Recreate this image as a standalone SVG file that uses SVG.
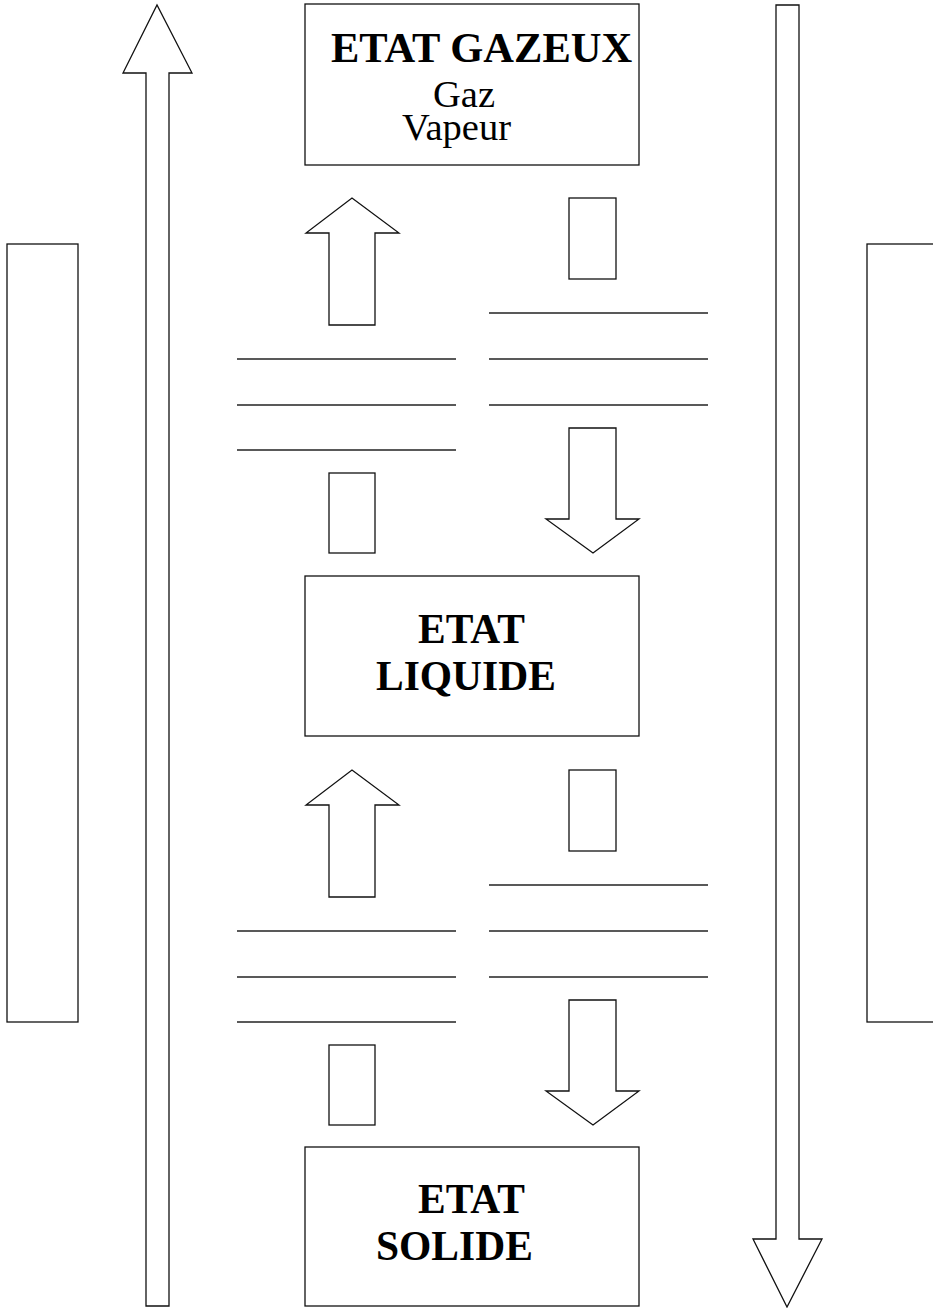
<svg xmlns="http://www.w3.org/2000/svg" width="933" height="1308" viewBox="0 0 933 1308">
<style>
.s{fill:#fff;stroke:#111;stroke-width:1.3}
.l{stroke:#222;stroke-width:1.3}
.b{font-family:"Liberation Serif","Times New Roman",serif;font-weight:bold;fill:#000}
.r{font-family:"Liberation Serif","Times New Roman",serif;fill:#000}
</style>
<rect width="933" height="1308" fill="#fff"/>
<g id="side-left"><rect class="s" x="7" y="244" width="71" height="778"/></g>
<g id="side-right"><rect class="s" x="867" y="244" width="80" height="778"/></g>
<g id="connectors">
<polygon class="s" points="146,1306 146,73 123,73 157,5 192,73 169,73 169,1306"/>
<polygon class="s" points="776,5 799,5 799,1239 822,1239 787,1307 753,1239 776,1239"/>
<polygon class="s" points="329,325 329,233 306,233 352,198 399,233 375,233 375,325"/>
<polygon class="s" points="329,897 329,805 306,805 352,770 399,805 375,805 375,897"/>
<polygon class="s" points="569,428 616,428 616,519 639,519 593,553 546,519 569,519"/>
<polygon class="s" points="569,1000 616,1000 616,1091 639,1091 593,1125 546,1091 569,1091"/>
</g>
<g id="labels">
<rect class="s" x="569" y="198" width="47" height="81"/>
<rect class="s" x="569" y="770" width="47" height="81"/>
<rect class="s" x="329" y="473" width="46" height="80"/>
<rect class="s" x="329" y="1045" width="46" height="80"/>
<line class="l" x1="237" y1="359" x2="456" y2="359"/>
<line class="l" x1="237" y1="405" x2="456" y2="405"/>
<line class="l" x1="237" y1="450" x2="456" y2="450"/>
<line class="l" x1="489" y1="313" x2="708" y2="313"/>
<line class="l" x1="489" y1="359" x2="708" y2="359"/>
<line class="l" x1="489" y1="405" x2="708" y2="405"/>
<line class="l" x1="237" y1="931" x2="456" y2="931"/>
<line class="l" x1="237" y1="977" x2="456" y2="977"/>
<line class="l" x1="237" y1="1022" x2="456" y2="1022"/>
<line class="l" x1="489" y1="885" x2="708" y2="885"/>
<line class="l" x1="489" y1="931" x2="708" y2="931"/>
<line class="l" x1="489" y1="977" x2="708" y2="977"/>
</g>
<g id="etat-gazeux">
<rect class="s" x="305" y="4" width="334" height="161"/>
<text class="b" x="331" y="62" font-size="42.5">ETAT GAZEUX</text>
<text class="r" x="433" y="107" font-size="38.5">Gaz</text>
<text class="r" x="402" y="140" font-size="38.5">Vapeur</text>
</g>
<g id="etat-liquide">
<rect class="s" x="305" y="576" width="334" height="160"/>
<text class="b" x="418" y="643" font-size="41.5">ETAT</text>
<text class="b" x="376" y="690" font-size="41.5">LIQUIDE</text>
</g>
<g id="etat-solide">
<rect class="s" x="305" y="1147" width="334" height="159"/>
<text class="b" x="418" y="1213" font-size="41.5">ETAT</text>
<text class="b" x="376" y="1260" font-size="41.5">SOLIDE</text>
</g>
</svg>
